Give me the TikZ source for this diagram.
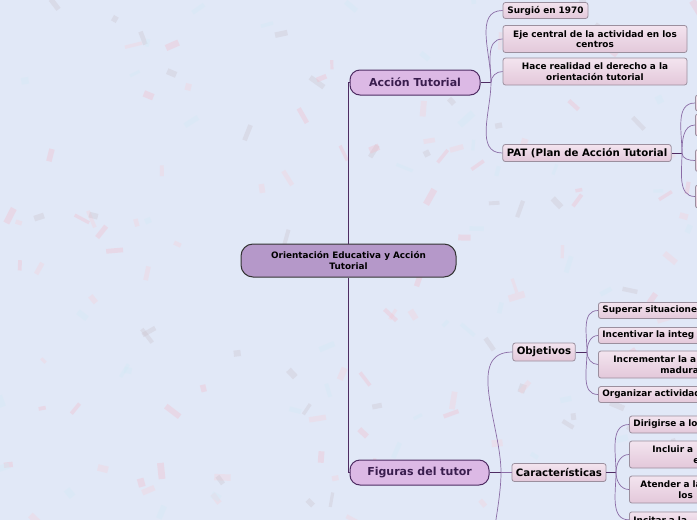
\documentclass[tikz,border=0pt]{standalone}
\usepackage{fontspec}
\setmainfont{DejaVu Sans}
\definecolor{bgblue}{HTML}{E1E8F7}
\definecolor{rootfill}{HTML}{B598C9}
\definecolor{mainfill}{HTML}{DCB9E5}
\definecolor{maintext}{HTML}{3A1D4E}
\definecolor{leaftop}{HTML}{F3E4EF}
\definecolor{leafbot}{HTML}{E3C8DA}
\definecolor{leafline}{HTML}{9B8F9E}
\definecolor{trunk}{HTML}{4E2C63}
\definecolor{twig}{HTML}{8A6CA6}
\definecolor{conf0}{HTML}{F3BDCB}
\definecolor{conf1}{HTML}{F6D0D8}
\definecolor{conf2}{HTML}{CCC4CE}
\definecolor{conf3}{HTML}{D0EAF5}
\begin{document}
\begin{tikzpicture}[x=1pt,y=-1pt]
	\tikzset{root/.style={draw=black!80, line width=1pt, fill=rootfill, rounded corners=12pt, minimum width=215pt, minimum height=33pt, align=center, font=\fontsize{8.85}{11}\selectfont\bfseries},
		main/.style={draw=trunk, line width=1pt, fill=mainfill, text=maintext, rounded corners=10pt, minimum height=25pt, font=\fontsize{11}{13}\selectfont\bfseries},
		leaf/.style={draw=leafline, line width=0.8pt, top color=leaftop, bottom color=leafbot, rounded corners=2.5pt, inner xsep=4pt, inner ysep=2pt, align=center, font=\fontsize{8.9}{10.5}\selectfont\bfseries},
		sub/.style={leaf, font=\fontsize{10.2}{12}\selectfont\bfseries},
		cut/.style={leaf, anchor=west, align=left, text width=150pt},
		link/.style={draw=trunk, line width=1pt},
		twig/.style={draw=twig, line width=0.7pt}}
	\fill[bgblue] (0,0) rectangle (697,520);
	\useasboundingbox (0,0) rectangle (697,520);
	\clip (0,0) rectangle (697,520);
	% confetti
	\pgfmathsetseed{5}
	\foreach \i in {1,...,170} {
		\pgfmathsetmacro\cx{rnd*697}
		\pgfmathsetmacro\cy{rnd*520}
		\pgfmathsetmacro\ca{rnd*180}
		\pgfmathsetmacro\cw{3+rnd*6}
		\pgfmathsetmacro\ch{1.5+rnd*2}
		\pgfmathtruncatemacro\ck{mod(\i,4)}
		\fill[conf\ck, opacity=0.35, rotate around={\ca:(\cx,\cy)}] (\cx-\cw,\cy-\ch) rectangle (\cx+\cw,\cy+\ch);
	}
	% nodes
	\node[root] (cen) at (348.5,260.5) {Orientación Educativa y Acción\\Tutorial};
	\node[main, minimum width=130pt] (acc) at (415,82.5) {Acción Tutorial};
	\node[main, minimum width=139pt] (fig) at (419.5,472.5) {Figuras del tutor};
	\node[leaf, minimum width=85pt, minimum height=16pt] (surg) at (545.5,10.5) {Surgió en 1970};
	\node[leaf, minimum width=184pt, minimum height=27pt] (eje) at (595,39) {Eje central de la actividad en los\\centros};
	\node[leaf, minimum width=184pt, minimum height=27pt] (hace) at (595,71.5) {Hace realidad el derecho a la\\orientación tutorial};
	\node[sub, minimum width=168pt, minimum height=17pt] (pat) at (587,153) {PAT (Plan de Acción Tutorial};
	\node[cut, minimum height=16pt] (p1) at (695,103) {};
	\node[cut, minimum height=22pt] (p2) at (695,125) {};
	\node[cut, minimum height=22pt] (p3) at (695,160.5) {};
	\node[cut, minimum height=23pt] (p4) at (695,196.5) {};
	\node[sub, minimum width=62pt, minimum height=18pt] (obj) at (544,352) {Objetivos};
	\node[sub, minimum width=92pt, minimum height=18pt] (car) at (559,472.5) {Características};
	\node[cut, minimum height=16pt] (sup) at (598,310.5) {Superar situaciones};
	\node[cut, minimum height=16pt] (inc) at (598,335.5) {Incentivar la integ};
	\node[cut, minimum height=27pt] (incr) at (598,364.5) {\hspace*{11pt}Incrementar la a\\\hspace*{58pt}madura};
	\node[cut, minimum height=16pt] (org) at (598,394.5) {Organizar actividad};
	\node[cut, minimum height=17pt] (dir) at (629,424.5) {Dirigirse a lo};
	\node[cut, minimum height=27pt] (incl) at (629,454.5) {\hspace*{19pt}Incluir a\\\hspace*{60pt}e};
	\node[cut, minimum height=27pt] (aten) at (629,489.5) {\hspace*{7pt}Atender a la\\\hspace*{45pt}los};
	\node[cut, anchor=north west, minimum height=0pt, inner ysep=4.5pt] (inci) at (629,511.5) {Incitar a la};
	% connectors
	\coordinate (accH) at (491,82.5);
	\coordinate (figH) at (501,472.5);
	\coordinate (figOut) at (520,600);
	\coordinate (patH) at (682,153);
	\coordinate (objH) at (587,352);
	\coordinate (carH) at (616,472.5);
	\draw[link] (cen.north) |- (acc.west);
	\draw[link] (cen.south) |- (fig.west);
	\draw[link] (acc.east) -- (accH);
	\draw[twig] (accH) to[out=90,in=180] (surg.west);
	\draw[twig] (accH) to[out=90,in=180] (eje.west);
	\draw[twig] (accH) to[out=90,in=180] (hace.west);
	\draw[twig] (accH) to[out=-90,in=180] (pat.west);
	\draw[link] (pat.east) -- (patH);
	\draw[twig] (patH) to[out=90,in=180] (p1.west);
	\draw[twig] (patH) to[out=90,in=180] (p2.west);
	\draw[twig] (patH) to[out=-90,in=180] (p3.west);
	\draw[twig] (patH) to[out=-90,in=180] (p4.west);
	\draw[link] (fig.east) -- (figH);
	\draw[twig] (figH) to[out=90,in=180] (obj.west);
	\draw[twig] (figH) -- (car.west);
	\draw[twig] (figH) to[out=-90,in=180] (figOut);
	\draw[link] (obj.east) -- (objH);
	\draw[twig] (objH) to[out=90,in=180] (sup.west);
	\draw[twig] (objH) to[out=90,in=180] (inc.west);
	\draw[twig] (objH) to[out=-90,in=180] (incr.west);
	\draw[twig] (objH) to[out=-90,in=180] (org.west);
	\draw[link] (car.east) -- (carH);
	\draw[twig] (carH) to[out=90,in=180] (dir.west);
	\draw[twig] (carH) to[out=90,in=180] (incl.west);
	\draw[twig] (carH) to[out=-90,in=180] (aten.west);
	\draw[twig] (carH) to[out=-90,in=180] (inci.west);
\end{tikzpicture}
\end{document}
